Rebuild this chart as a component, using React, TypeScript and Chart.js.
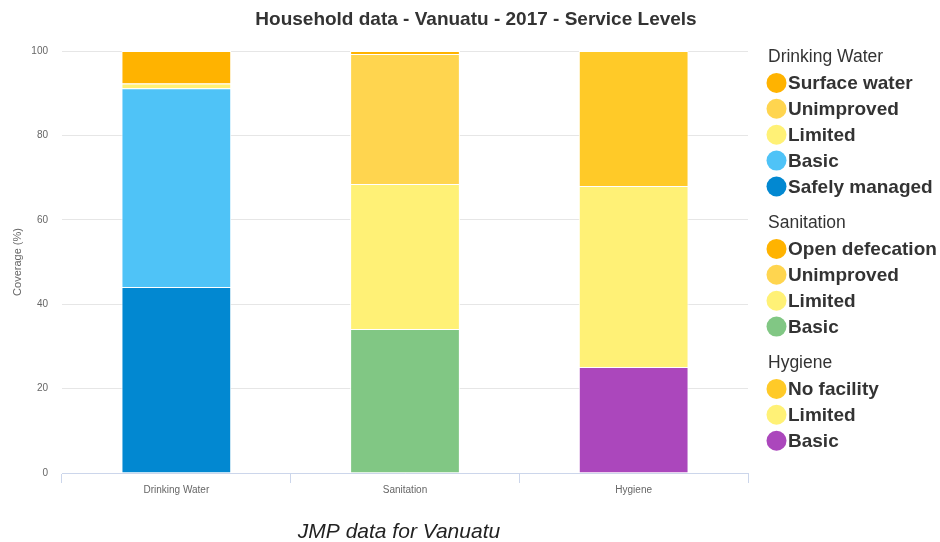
import React, { useEffect, useRef } from "react";
import { Chart, registerables } from "chart.js";

Chart.register(...registerables);

const chartTitle = "Household data - Vanuatu - 2017 - Service Levels";
const caption = "JMP data for Vanuatu";
const yAxisTitle = "Coverage (%)";
const categories = ["Drinking Water", "Sanitation", "Hygiene"];

// Drinking water levels (bottom to top)
const waterLabels = ["Safely managed", "Basic", "Limited", "Unimproved", "Surface water"];
const waterValues = [44.1, 47.1, 1.1, 0, 7.7];
const waterColors = ["#0288d1", "#4fc3f7", "#fff176", "#ffd54f", "#ffb300"];

// Sanitation levels (bottom to top)
const sanLabels = ["Basic", "Limited", "Unimproved", "Open defecation"];
const sanValues = [34.1, 34.4, 30.8, 0.7];
const sanColors = ["#81c784", "#fff176", "#ffd54f", "#ffb300"];

// Hygiene levels (bottom to top)
const hygLabels = ["Basic", "Limited", "No facility"];
const hygValues = [25.1, 42.9, 32.0];
const hygColors = ["#ab47bc", "#fff176", "#ffca28"];

const groups = [
  { name: "Drinking Water", labels: waterLabels, values: waterValues, colors: waterColors },
  { name: "Sanitation", labels: sanLabels, values: sanValues, colors: sanColors },
  { name: "Hygiene", labels: hygLabels, values: hygValues, colors: hygColors },
];

const FONT = "'Liberation Sans', Arial, Helvetica, sans-serif";

const overlayPlugin = {
  id: "overlay",
  afterDraw(chart: any) {
    const ctx = chart.ctx as CanvasRenderingContext2D;
    ctx.save();
    // Title
    ctx.fillStyle = "#333333";
    ctx.font = `bold 19px ${FONT}`;
    ctx.textAlign = "center";
    ctx.textBaseline = "alphabetic";
    ctx.fillText(chartTitle, 476, 24.5);

    // Caption
    ctx.font = `italic 21px ${FONT}`;
    ctx.fillStyle = "#222222";
    ctx.fillText(caption, 399, 538);

    // Legend
    ctx.textAlign = "left";
    ctx.textBaseline = "middle";
    const headerY = [57, 223, 363];
    groups.forEach((g, gi) => {
      let y = headerY[gi];
      ctx.font = `17.5px ${FONT}`;
      ctx.fillStyle = "#333333";
      ctx.fillText(g.name, 768, y);
      for (let i = g.labels.length - 1; i >= 0; i--) {
        y += 25.9;
        ctx.beginPath();
        ctx.arc(776.5, y, 10, 0, Math.PI * 2);
        ctx.fillStyle = g.colors[i];
        ctx.fill();
        ctx.font = `bold 19px ${FONT}`;
        ctx.fillStyle = "#333333";
        ctx.fillText(g.labels[i], 788, y + 1);
      }
    });
    ctx.restore();
  },
};

export default function App() {
  const canvasRef = useRef<HTMLCanvasElement | null>(null);

  useEffect(() => {
    if (!canvasRef.current) return;
    const datasets: any[] = [];
    groups.forEach((g, gi) => {
      g.labels.forEach((lab, i) => {
        const data = categories.map((_, ci) => (ci === gi ? g.values[i] : null));
        datasets.push({
          label: `${g.name} - ${lab}`,
          data,
          backgroundColor: g.colors[i],
          borderColor: "#ffffff",
          borderWidth: 1,
          stack: "s",
        });
      });
    });

    const chart = new Chart(canvasRef.current, {
      type: "bar",
      data: { labels: categories, datasets },
      options: {
        responsive: false,
        animation: false,
        layout: { padding: { left: 0, right: 192, top: 51, bottom: 39 } },
        plugins: {
          legend: { display: false },
          title: { display: false },
          tooltip: { enabled: false },
        },
        datasets: { bar: { categoryPercentage: 1, barPercentage: 0.48 } },
        scales: {
          x: {
            stacked: true,
            grid: {
              offset: true,
              drawOnChartArea: false,
              tickLength: 10,
              color: "#ccd6eb",
            },
            border: { color: "#ccd6eb" },
            ticks: { color: "#666666", font: { family: FONT, size: 10 }, padding: 1 },
            afterFit(scale: any) {
              scale.height = 30;
            },
          },
          y: {
            stacked: true,
            min: 0,
            max: 100,
            ticks: { stepSize: 20, color: "#666666", font: { family: FONT, size: 10 }, padding: 14 },
            grid: { color: "#e6e6e6", drawTicks: false },
            border: { display: false },
            title: {
              display: true,
              text: yAxisTitle,
              color: "#666666",
              font: { family: FONT, size: 11 },
              padding: { top: 11, bottom: 0 },
            },
            afterFit(scale: any) {
              scale.width = 62;
            },
          },
        },
      },
      plugins: [overlayPlugin],
    });
    return () => chart.destroy();
  }, []);

  return (
    <div style={{ position: "fixed", left: 0, top: 0, width: 940, height: 542, background: "#ffffff" }}>
      <canvas ref={canvasRef} width={940} height={542} style={{ display: "block" }} />
    </div>
  );
}
